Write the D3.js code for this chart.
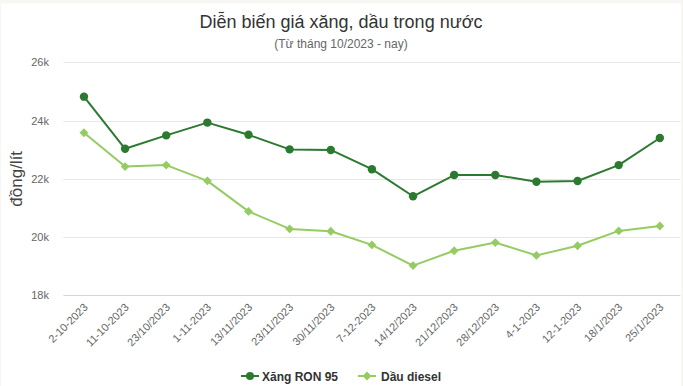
<!DOCTYPE html>
<html>
<head>
<meta charset="utf-8">
<script src="https://cdn.jsdelivr.net/npm/d3@7"></script>
<style>
  html, body { margin: 0; padding: 0; background: #fff; }
  svg { display: block; font-family: "Liberation Sans", Arial, sans-serif; }
</style>
</head>
<body>
<svg id="chart" width="683" height="386"></svg>
<script>
const categories = ["2-10-2023","11-10-2023","23/10/2023","1-11-2023","13/11/2023","23/11/2023","30/11/2023","7-12-2023","14/12/2023","21/12/2023","28/12/2023","4-1-2023","12-1-2023","18/1/2023","25/1/2023"];
const ron95 = [24820, 23030, 23490, 23930, 23510, 23010, 22990, 22330, 21400, 22130, 22130, 21900, 21925, 22470, 23400];
const diesel = [23580, 22420, 22470, 21930, 20880, 20280, 20200, 19730, 19020, 19530, 19810, 19370, 19700, 20210, 20380];
const yTicks = [18000, 20000, 22000, 24000, 26000];
const seriesNames = ["Xăng RON 95", "Dầu diesel"];
const colors = ["#2b7a2f", "#95cc62"];

const svg = d3.select("#chart");
const W = 683, H = 386;

// background frame
svg.append("rect").attr("x", 0).attr("y", 0).attr("width", W).attr("height", H).attr("fill", "#fff");
svg.append("rect").attr("x", 0).attr("y", 0).attr("width", W).attr("height", 3.5).attr("fill", "#f7f6f3");
svg.append("rect").attr("x", 681.5).attr("y", 0).attr("width", 1.5).attr("height", H).attr("fill", "#f4f3f0");
svg.append("rect").attr("x", 0).attr("y", 0).attr("width", 1).attr("height", H).attr("fill", "#f7f6f3");

const x = d3.scalePoint().domain(categories).range([63.4, 680.4]).padding(0.5);
const y = d3.scaleLinear().domain([18000, 26000]).range([295.3, 62.3]);

// title
svg.append("text").attr("x", 341).attr("y", 28).attr("text-anchor", "middle")
  .attr("font-size", 18).attr("fill", "#333").text("Diễn biến giá xăng, dầu trong nước");
svg.append("text").attr("x", 341).attr("y", 47.5).attr("text-anchor", "middle")
  .attr("font-size", 12).attr("fill", "#666").text("(Từ tháng 10/2023 - nay)");

// gridlines
const yAxis = d3.axisLeft(y).tickValues(yTicks).tickFormat(d => (d / 1000) + "k").tickSize(0).tickPadding(0);
const gy = svg.append("g").attr("transform", "translate(49,0)").call(yAxis);
gy.select(".domain").remove();
gy.selectAll("text").attr("font-size", 11).attr("fill", "#666").attr("font-family", "Liberation Sans, Arial, sans-serif");

svg.append("g").selectAll("line").data(yTicks).join("line")
  .attr("x1", 63.4).attr("x2", 680.4)
  .attr("y1", d => Math.round(y(d)) + 0.5).attr("y2", d => Math.round(y(d)) + 0.5)
  .attr("stroke", d => d === 18000 ? "#ccd6eb" : "#e6e6e6").attr("stroke-width", 1);

// y axis title
svg.append("text").attr("transform", `translate(22,${(62.3 + 295.3) / 2}) rotate(-90)`)
  .attr("text-anchor", "middle").attr("font-size", 17).attr("fill", "#444").text("đồng/lít");

// x axis labels
const xAxis = d3.axisBottom(x).tickSize(0).tickPadding(0);
const gx = svg.append("g").attr("transform", "translate(0,296)").call(xAxis);
gx.select(".domain").remove();
gx.selectAll("text")
  .attr("font-size", 11).attr("fill", "#666").attr("font-family", "Liberation Sans, Arial, sans-serif")
  .attr("text-anchor", "end").attr("dy", null).attr("y", null)
  .attr("transform", "translate(4,12) rotate(-45)");

// lines
const seriesData = [ron95, diesel];
const line = d3.line().x((d, i) => x(categories[i])).y(d => y(d));
seriesData.forEach((vals, si) => {
  svg.append("path").datum(vals).attr("d", line).attr("fill", "none")
    .attr("stroke", colors[si]).attr("stroke-width", 2).attr("stroke-linejoin", "round");
});
// markers
svg.append("g").selectAll("circle").data(ron95).join("circle")
  .attr("cx", (d, i) => x(categories[i])).attr("cy", d => y(d)).attr("r", 4.2).attr("fill", colors[0]);
const diamond = d3.symbol().type(d3.symbolDiamond2).size(50);
svg.append("g").selectAll("path").data(diesel).join("path")
  .attr("transform", (d, i) => `translate(${x(categories[i])},${y(d)})`)
  .attr("d", diamond).attr("fill", colors[1]);

// legend
const lg = svg.append("g").attr("transform", "translate(0,376)");
const legendX = [241, 358];
const textX = [262, 381];
seriesNames.forEach((name, i) => {
  lg.append("line").attr("x1", legendX[i]).attr("x2", legendX[i] + 18).attr("y1", 0).attr("y2", 0)
    .attr("stroke", colors[i]).attr("stroke-width", 2);
  if (i === 0) {
    lg.append("circle").attr("cx", legendX[i] + 9).attr("cy", 0).attr("r", 4).attr("fill", colors[i]);
  } else {
    lg.append("path").attr("transform", `translate(${legendX[i] + 9},0)`).attr("d", diamond).attr("fill", colors[i]);
  }
  lg.append("text").attr("x", textX[i]).attr("y", 4.5).attr("font-size", 12).attr("font-weight", "bold")
    .attr("fill", "#333").text(name);
});
</script>
</body>
</html>
